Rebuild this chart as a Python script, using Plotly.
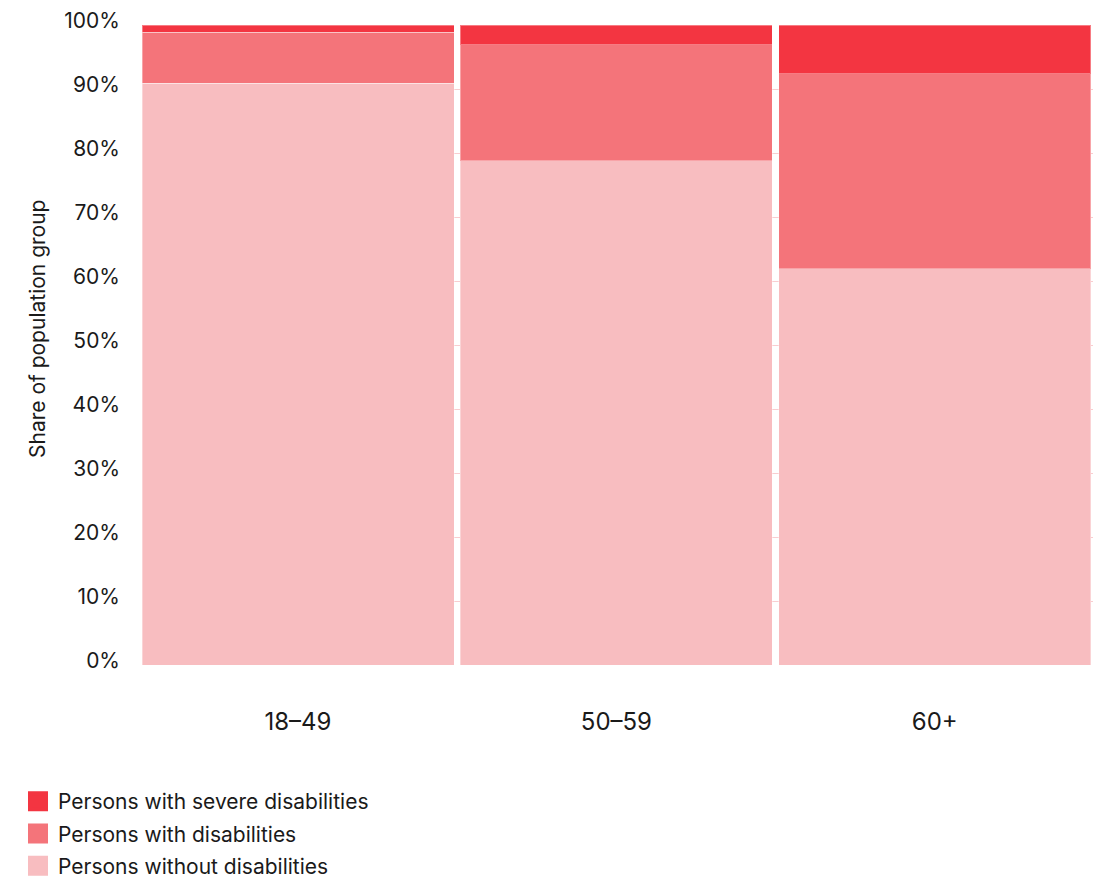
import plotly.graph_objects as go

categories = ["18–49", "50–59", "60+"]
without_dis = [90.9, 78.8, 61.9]
with_dis = [8.0, 18.1, 30.5]
severe_dis = [1.1, 3.1, 7.6]
series_names = ["Persons without disabilities", "Persons with disabilities", "Persons with severe disabilities"]
series_colors = ["#F8BDC0", "#F4747A", "#F33541"]
y_ticks = [0, 10, 20, 30, 40, 50, 60, 70, 80, 90, 100]
y_ticktext = [f"{v}%" for v in y_ticks]

FONT = "Inter"
TXT = "#1a1a1a"
OFF = 8  # page offset of the figure

fig = go.Figure()
for name, vals, col in zip(series_names, [without_dis, with_dis, severe_dis], series_colors):
    fig.add_trace(go.Bar(
        x=list(range(len(categories))), y=vals, name=name,
        marker=dict(color=col, line=dict(color="rgba(255,255,255,0.35)", width=1)),
        hoverinfo="skip", showlegend=False,
    ))
# legend entries (square swatches), top entry first
for name, col in list(zip(series_names, series_colors))[::-1]:
    fig.add_trace(go.Scatter(
        x=[None], y=[None], mode="markers", name=name, legendgroup=name,
        marker=dict(symbol="square", size=16, color=col, line=dict(color=col, width=4)),
        hoverinfo="skip",
    ))

W, H = 1110, 880
L, R, T, B = 142 - OFF, 17 + OFF, 25 - OFF, 215 + OFF
pw = W - L - R
ph = H - T - B

fig.update_layout(
    width=W, height=H,
    margin=dict(l=L, r=R, t=T, b=B, autoexpand=False),
    barmode="stack", bargap=0.02,
    plot_bgcolor="white", paper_bgcolor="white",
    font=dict(family=FONT, color=TXT, size=21),
    showlegend=True,
    legend=dict(
        xref="container", yref="container",
        x=(18 - OFF) / W, xanchor="left",
        y=1 - (781 - OFF) / H, yanchor="top",
        traceorder="grouped",
        font=dict(size=21, family=FONT, color=TXT),
        itemsizing="trace", itemwidth=30, tracegroupgap=2,
        bgcolor="rgba(0,0,0,0)",
    ),
    xaxis=dict(
        tickmode="array", tickvals=list(range(len(categories))), ticktext=categories,
        range=[-0.49, 2.497], showgrid=False, zeroline=False, showline=False,
        ticks="", ticklabelstandoff=40, tickfont=dict(size=24, family=FONT, color=TXT),
    ),
    yaxis=dict(
        range=[0, 100], tickmode="array", tickvals=y_ticks, ticktext=y_ticktext,
        showgrid=True, gridcolor="#F9CDD0", gridwidth=1, zeroline=False, showline=False,
        ticks="", ticklabelstandoff=21, ticklabelshift=-4, ticklabeloverflow="allow",
        tickfont=dict(size=21, family=FONT, color=TXT),
    ),
    annotations=[dict(
        text="Share of population group", textangle=-90,
        xref="paper", yref="paper",
        x=(37 - 142) / pw, y=(665 - 329) / ph,
        xanchor="center", yanchor="middle", showarrow=False,
        font=dict(size=21, family=FONT, color=TXT),
    )],
)

fig.write_html("out.html")
